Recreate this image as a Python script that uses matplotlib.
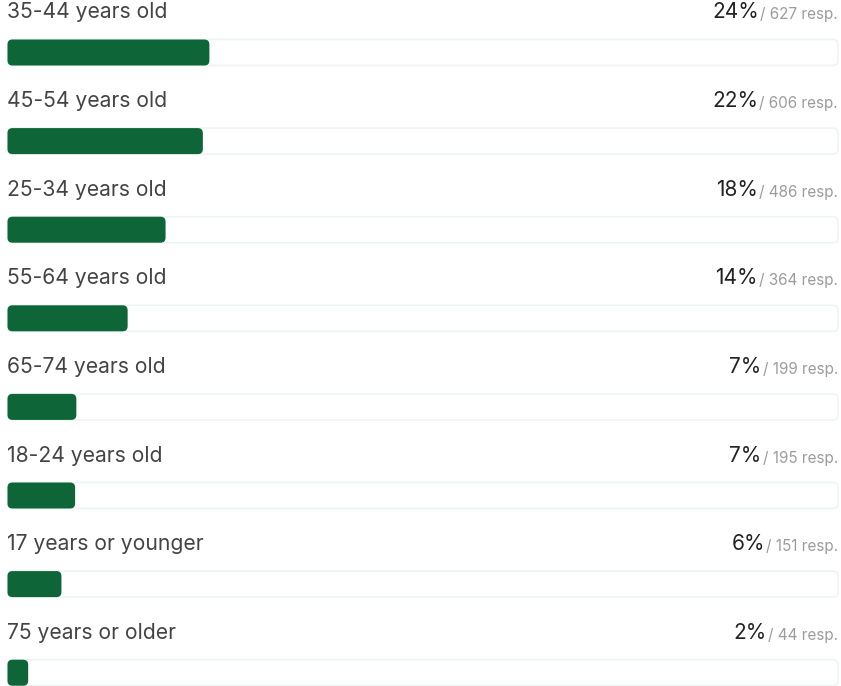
import matplotlib.pyplot as plt
from matplotlib.patches import FancyBboxPatch

labels = ["35-44 years old", "45-54 years old", "25-34 years old", "55-64 years old",
          "65-74 years old", "18-24 years old", "17 years or younger", "75 years or older"]
percent = [24, 22, 18, 14, 7, 7, 6, 2]
responses = [627, 606, 486, 364, 199, 195, 151, 44]

W, H = 841, 686
fig = plt.figure(figsize=(W / 100, H / 100), dpi=100)
ax = fig.add_axes([0, 0, 1, 1])
ax.set_xlim(0, W)
ax.set_ylim(H, 0)
ax.axis("off")

plt.rcParams['font.family'] = ['Inter', 'DejaVu Sans']

x0, x1 = 7.5, 838
track_w = x1 - x0
bar_h = 26
total = sum(responses)
fig.canvas.draw()
renderer = fig.canvas.get_renderer()

for i, (lab, p, n) in enumerate(zip(labels, percent, responses)):
    yc = 52.5 + i * 88.6
    # background track
    ax.add_patch(FancyBboxPatch((x0, yc - bar_h / 2), track_w, bar_h,
                                boxstyle="round,pad=0,rounding_size=5",
                                facecolor="white", edgecolor="#edf5f2", linewidth=1.2))
    # value bar
    bw = n / total * track_w + 7
    ax.add_patch(FancyBboxPatch((x0, yc - bar_h / 2), bw, bar_h,
                                boxstyle="round,pad=0,rounding_size=5",
                                facecolor="#0d6538", edgecolor="none"))
    base = yc - 34
    ax.text(x0, base, lab, fontsize=15.2, color="#444444", ha="left", va="baseline")
    rt = ax.text(x1, base + 1, f"/ {n} resp.", fontsize=11, color="#9c9c9c",
                 ha="right", va="baseline")
    bb = rt.get_window_extent(renderer)
    xl = ax.transData.inverted().transform((bb.x0, 0))[0]
    ax.text(xl - 1, base, f"{p}%", fontsize=15, color="#222222", ha="right", va="baseline")

fig.savefig("out.png", dpi=100)
